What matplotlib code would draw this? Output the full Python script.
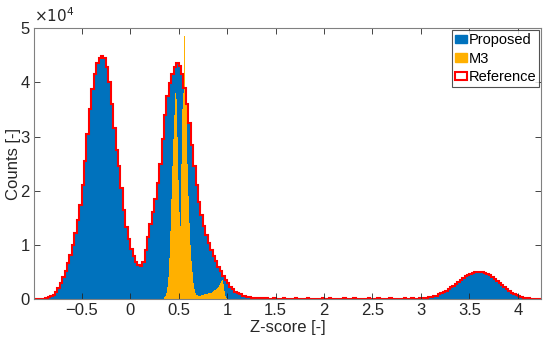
import numpy as np
import matplotlib
matplotlib.use('Agg')
import matplotlib.pyplot as plt
from matplotlib.patches import Patch

plt.rcParams['font.family'] = ['Liberation Sans', 'DejaVu Sans']

# reference / proposed histogram, bin width 0.025 starting at -1.0 (counts in thousands)
ref_start = -1.0
ref_width = 0.025
ref_k = [
    0.0, 0.02, 0.04, 0.07,
    0.1, 0.2, 0.3, 0.5, 0.8, 1.3, 2.0, 3.0, 4.0, 5.2,
    6.6, 8.2, 10.0, 12.2, 14.6, 17.3, 21.0, 25.5, 30.5, 35.0,
    38.8, 41.5, 43.5, 44.5, 44.8, 44.4, 42.8, 40.0, 36.0, 31.5,
    27.5, 24.5, 20.5, 16.5, 13.3, 11.0, 9.3, 8.0, 6.9, 6.2,
    6.1, 6.9, 9.0, 11.5, 13.8, 16.0, 18.5, 21.5, 25.0, 29.5,
    34.0, 37.5, 39.8, 41.5, 42.8, 43.5, 43.0, 41.5, 39.0, 36.0,
    32.5, 28.5, 24.5, 21.0, 18.0, 15.5, 13.5, 11.8, 10.3, 9.0,
    7.9, 7.0, 6.0, 5.1, 4.3, 3.6, 2.9, 2.3, 1.8, 1.4,
    1.1, 0.85, 0.65, 0.5, 0.4, 0.32, 0.26, 0.22, 0.18, 0.15,
    0.13, 0.12,
    0.11, 0.1, 0.1, 0.12, 0.1, 0.09, 0.1, 0.11, 0.1, 0.1,
    0.09, 0.1, 0.12, 0.1, 0.1, 0.09, 0.1, 0.11, 0.1, 0.1,
    0.1, 0.09, 0.1, 0.12, 0.1, 0.1, 0.11, 0.1, 0.09, 0.1,
    0.1, 0.1, 0.11, 0.1, 0.09, 0.1, 0.12, 0.1, 0.1, 0.1,
    0.09, 0.1, 0.11, 0.1, 0.1, 0.1, 0.12, 0.1, 0.09, 0.1,
    0.1, 0.11, 0.1, 0.1, 0.1, 0.09, 0.1, 0.12, 0.1, 0.1,
    0.11, 0.1, 0.1, 0.12,
    0.15, 0.2, 0.25, 0.3, 0.4, 0.5, 0.65, 0.85, 1.05, 1.3,
    1.55, 1.85, 2.15, 2.5, 2.85, 3.2, 3.55, 3.9, 4.2, 4.45,
    4.7, 4.85, 4.95, 5.05, 5.05, 5.0, 4.85, 4.65, 4.4, 4.1,
    3.75, 3.35, 2.95, 2.55, 2.15, 1.8, 1.45, 1.15, 0.9, 0.7,
    0.5, 0.38, 0.28, 0.2, 0.14, 0.1, 0.07, 0.05, 0.03, 0.02,
]

# M3 histogram, finer bins of 0.01 starting at 0.33 (thousands)
m3_start = 0.33
m3_width = 0.01
m3_k = [
    0.0, 0.1, 0.3, 0.6, 1.2, 2.2, 4.0, 7.5, 12.5, 18.5,
    24.5, 29.5, 34.0, 38.0, 37.0, 30.0, 22.0, 16.0, 13.5, 16.0,
    25.0, 35.0, 38.0, 48.5, 39.0, 36.0, 25.0, 19.0, 14.0, 10.0,
    7.0, 5.0, 3.0, 1.8, 1.1, 0.8, 0.7, 0.65, 0.65, 0.65,
    0.7, 0.75, 0.8, 0.85, 0.9, 0.95, 1.0, 1.05, 1.1, 1.15,
    1.2, 1.3, 1.4, 1.5, 1.6, 1.75, 1.9, 2.1, 2.3, 2.6,
    3.0, 3.4, 3.5, 2.8, 1.5, 0.6, 0.2, 0.05,
]

ref = np.array(ref_k) * 1000
m3 = np.array(m3_k) * 1000
ref_edges = ref_start + ref_width * np.arange(len(ref) + 1)
m3_edges = m3_start + m3_width * np.arange(len(m3) + 1)

blue = '#0072BD'
yellow = '#FFB000'
red = '#FF0000'
grey = '#262626'

fig = plt.figure(figsize=(5.5, 3.43), dpi=100)
ax = fig.add_axes([0.062, 0.128, 0.922, 0.79])

ax.stairs(ref, ref_edges, fill=True, color=blue)
ax.stairs(m3, m3_edges, fill=True, color=yellow)
ax.stairs(ref, ref_edges, color=red, linewidth=1.5)

ax.set_xlim(-0.99, 4.24)
ax.set_ylim(0, 50000)
ax.set_xticks([-0.5, 0, 0.5, 1, 1.5, 2, 2.5, 3, 3.5, 4])
ax.set_xticklabels(['\u22120.5', '0', '0.5', '1', '1.5', '2', '2.5', '3', '3.5', '4'])
ax.set_yticks([0, 10000, 20000, 30000, 40000, 50000])
ax.set_yticklabels(['0', '1', '2', '3', '4', '5'])
ax.tick_params(direction='in', top=True, right=True, labelsize=12, colors=grey,
               length=4, width=0.6, pad=3)
for s in ax.spines.values():
    s.set_color('#808080')
    s.set_linewidth(0.8)

ax.set_xlabel('Z-score [-]', fontsize=12, color=grey, labelpad=1)
ax.set_ylabel('Counts [-]', fontsize=12, color=grey, labelpad=0)
ax.text(0.0, 1.01, r'$\times10^{4}$', transform=ax.transAxes, fontsize=11,
        color=grey, ha='left', va='bottom')

handles = [Patch(facecolor=blue, edgecolor=blue),
           Patch(facecolor=yellow, edgecolor=yellow),
           Patch(facecolor='white', edgecolor=red, linewidth=1.5)]
leg = ax.legend(handles, ['Proposed', 'M3', 'Reference'], loc='upper right',
                fontsize=10.5, frameon=True, fancybox=False, borderpad=0.2,
                handlelength=0.8, handleheight=0.5, handletextpad=0.1,
                labelspacing=0.3, borderaxespad=0.15)
leg.get_frame().set_edgecolor(grey)
leg.get_frame().set_linewidth(0.8)

fig.savefig('out.png', dpi=100)
